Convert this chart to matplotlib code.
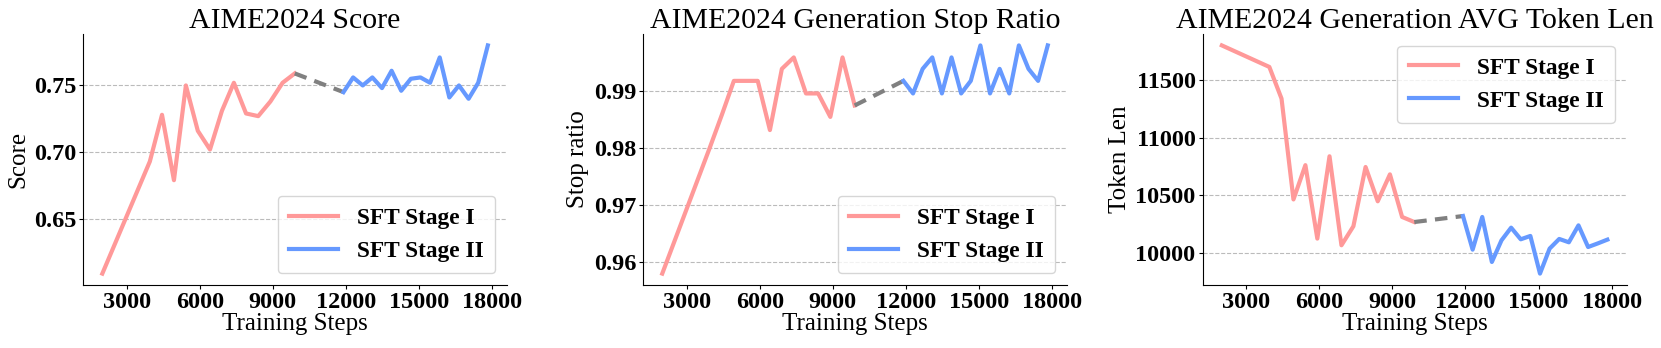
import numpy as np
import matplotlib
matplotlib.use("Agg")
import matplotlib.pyplot as plt

plt.rcParams["font.family"] = ["Liberation Serif", "DejaVu Serif"]

# Training steps
steps_1 = [2000, 3950, 4450, 4940, 5430, 5920, 6420, 6910, 7400, 7900, 8400, 8900, 9400, 9900]
steps_2 = [11900, 12295, 12690, 13085, 13480, 13875, 14270, 14665, 15060, 15455,
           15850, 16245, 16640, 17035, 17430, 17825]

# AIME2024 score
score_1 = [0.609, 0.693, 0.728, 0.679, 0.750, 0.716, 0.702, 0.731, 0.752, 0.729,
           0.727, 0.738, 0.752, 0.759]
score_2 = [0.745, 0.756, 0.750, 0.756, 0.748, 0.761, 0.746, 0.755, 0.756, 0.752,
           0.771, 0.741, 0.750, 0.740, 0.752, 0.780]

# Generation stop ratio
stop_1 = [0.958, 0.980, 0.9858, 0.9917, 0.9917, 0.9917, 0.9831, 0.9938, 0.9958, 0.9895,
          0.9895, 0.9854, 0.9958, 0.9874]
stop_2 = [0.9917, 0.9895, 0.9938, 0.9958, 0.9895, 0.9958, 0.9895, 0.9917, 0.9979, 0.9895,
          0.9938, 0.9895, 0.9979, 0.9938, 0.9917, 0.9979]

# Generation avg token length
tok_1 = [11800, 11613, 11338, 10462, 10760, 10122, 10837, 10064, 10229, 10744,
         10446, 10680, 10310, 10266]
tok_2 = [10318, 10026, 10310, 9919, 10107, 10217, 10116, 10145, 9818, 10035,
         10119, 10090, 10237, 10049, 10080, 10113]

panels = [
    ("AIME2024 Score", "Score", score_1, score_2, "lower right", [0.65, 0.70, 0.75], "%.2f"),
    ("AIME2024 Generation Stop Ratio", "Stop ratio", stop_1, stop_2, "lower right",
     [0.96, 0.97, 0.98, 0.99], "%.2f"),
    ("AIME2024 Generation AVG Token Len", "Token Len", tok_1, tok_2, "upper right",
     [10000, 10500, 11000, 11500], "%d"),
]

red = "#FF9999"
blue = "#6699FF"

fig = plt.figure(figsize=(16.61, 3.48), dpi=100)
lefts = [0.0500, 0.3871, 0.7240]

for left, (title, ylab, y1, y2, loc, yt, fmt) in zip(lefts, panels):
    ax = fig.add_axes([left, 0.181, 0.2553, 0.7213])
    ax.plot(steps_1, y1, color=red, lw=3, label="SFT Stage I")
    ax.plot([steps_1[-1], steps_2[0]], [y1[-1], y2[0]], color="gray", lw=3,
            linestyle=(0, (3, 2)))
    ax.plot(steps_2, y2, color=blue, lw=3, label="SFT Stage II")
    ax.set_title(title, fontsize=21.5, pad=1)
    ax.set_xlabel("Training Steps", fontsize=18, labelpad=0)
    ax.set_ylabel(ylab, fontsize=18, labelpad=3)
    ax.set_xticks([3000, 6000, 9000, 12000, 15000, 18000])
    ax.set_yticks(yt)
    ax.set_yticklabels([fmt % v for v in yt])
    for lab in ax.get_xticklabels() + ax.get_yticklabels():
        lab.set_fontweight("bold")
        lab.set_fontsize(17.5)
    ax.tick_params(axis="both", length=3, pad=2)
    ax.grid(axis="y", linestyle="--", color="#BBBBBB", lw=0.8)
    ax.spines["top"].set_visible(False)
    ax.spines["right"].set_visible(False)
    ax.legend(loc=loc, prop={"weight": "bold", "size": 16.8}, handlelength=2.1,
              borderpad=0.5)

fig.savefig("out.png", dpi=100)
